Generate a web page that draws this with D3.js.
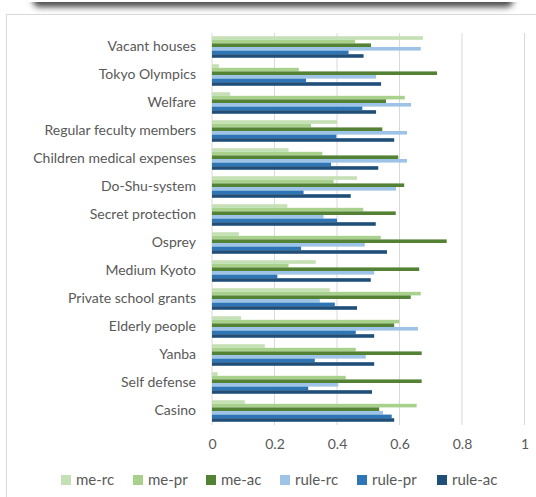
<!DOCTYPE html>
<html>
<head>
<meta charset="utf-8">
<script src="https://cdn.jsdelivr.net/npm/d3@7"></script>
<style>
  body { margin: 0; background: #fff; }
  svg { display: block; font-family: Lato, "Open Sans", sans-serif; }
</style>
</head>
<body>
<div id="content"></div>
<script>
const categories = ["Vacant houses", "Tokyo Olympics", "Welfare", "Regular feculty members",
    "Children medical expenses", "Do-Shu-system", "Secret protection", "Osprey",
    "Medium Kyoto", "Private school grants", "Elderly people", "Yanba",
    "Self defense", "Casino"];
const seriesNames = ["me-rc", "me-pr", "me-ac", "rule-rc", "rule-pr", "rule-ac"];
const colors = ["#c5e0b4", "#a9d18e", "#548235", "#9dc3e6", "#2e75b6", "#1f4e79"];

// one array per series, same order as categories
const meRc   = [0.675, 0.022, 0.058, 0.400, 0.245, 0.464, 0.241, 0.086, 0.332, 0.377, 0.093, 0.169, 0.018, 0.105];
const mePr   = [0.458, 0.278, 0.617, 0.317, 0.353, 0.389, 0.484, 0.540, 0.245, 0.668, 0.599, 0.460, 0.428, 0.655];
const meAc   = [0.509, 0.720, 0.557, 0.545, 0.596, 0.615, 0.588, 0.751, 0.663, 0.636, 0.583, 0.671, 0.671, 0.535];
const ruleRc = [0.668, 0.525, 0.637, 0.624, 0.624, 0.589, 0.357, 0.489, 0.519, 0.345, 0.659, 0.492, 0.404, 0.547];
const rulePr = [0.437, 0.301, 0.481, 0.398, 0.381, 0.293, 0.400, 0.285, 0.209, 0.393, 0.460, 0.329, 0.308, 0.575];
const ruleAc = [0.485, 0.541, 0.525, 0.583, 0.532, 0.444, 0.524, 0.560, 0.508, 0.464, 0.519, 0.519, 0.512, 0.583];
const xTicks = [0, 0.2, 0.4, 0.6, 0.8, 1];

const seriesValues = [meRc, mePr, meAc, ruleRc, rulePr, ruleAc];

const width = 536;
const height = 497;
const plotLeft = 212, plotRight = 524.5, plotTop = 33, plotBottom = 425;

const canvas = d3.select("#content")
    .append("svg")
    .attr("width", width)
    .attr("height", height);

// shadow of the box above
const defs = canvas.append("defs");
defs.append("filter").attr("id", "blur")
    .attr("x", "-10%").attr("y", "-100%").attr("width", "120%").attr("height", "300%")
  .append("feGaussianBlur").attr("stdDeviation", 3);
canvas.append("rect")
    .attr("x", 33).attr("y", -20).attr("width", 480).attr("height", 27)
    .attr("rx", 6)
    .attr("fill", "#4a4a4a")
    .attr("filter", "url(#blur)");
canvas.append("rect")
    .attr("x", 28).attr("y", -20).attr("width", 490).attr("height", 22)
    .attr("fill", "#fff");

// chart frame
canvas.append("rect")
    .attr("x", 6.5).attr("y", 14.5).attr("width", 540).attr("height", 500)
    .attr("fill", "#fff")
    .attr("stroke", "#d9d9d9");

const xScale = d3.scaleLinear().domain([0, 1]).range([plotLeft, plotRight]);
const yScale = d3.scaleBand().domain(categories).range([plotTop, plotBottom])
    .paddingInner(0.23).paddingOuter(0.115);
const ySub = d3.scaleBand().domain(seriesNames).range([0, yScale.bandwidth()]);

// gridlines
canvas.append("g")
    .selectAll("line")
    .data(xTicks)
    .enter()
    .append("line")
    .attr("x1", d => xScale(d)).attr("x2", d => xScale(d))
    .attr("y1", plotTop).attr("y2", plotBottom)
    .attr("stroke", "#d9d9d9")
    .attr("stroke-width", 1);

// bars
seriesNames.forEach((s, si) => {
    canvas.append("g")
        .selectAll("rect")
        .data(seriesValues[si])
        .enter()
        .append("rect")
        .attr("x", xScale(0))
        .attr("y", (d, i) => yScale(categories[i]) + ySub(s))
        .attr("width", d => xScale(d) - xScale(0))
        .attr("height", ySub.bandwidth())
        .attr("fill", colors[si]);
});

// category labels
const yAxis = d3.axisLeft(yScale).tickSize(0).tickPadding(16);
canvas.append("g")
    .attr("transform", `translate(${plotLeft}, 0)`)
    .call(yAxis)
    .call(g => g.select(".domain").remove())
    .selectAll("text")
    .attr("font-family", "Lato, sans-serif")
    .attr("font-size", 14)
    .attr("fill", "#595959");

// x axis labels
const xAxis = d3.axisBottom(xScale).tickValues(xTicks).tickSize(0).tickPadding(14)
    .tickFormat(d3.format("~g"));
canvas.append("g")
    .attr("transform", `translate(0, ${plotBottom})`)
    .call(xAxis)
    .call(g => g.select(".domain").remove())
    .selectAll("text")
    .attr("font-family", "Lato, sans-serif")
    .attr("font-size", 14)
    .attr("fill", "#595959");

// legend
const legendX = [61, 133, 206, 280, 357, 437];
const legend = canvas.append("g")
    .selectAll("g")
    .data(seriesNames)
    .enter()
    .append("g")
    .attr("transform", (d, i) => `translate(${legendX[i]}, 475)`);
legend.append("rect")
    .attr("width", 10).attr("height", 10)
    .attr("fill", (d, i) => colors[i]);
legend.append("text")
    .attr("x", 15).attr("y", 10)
    .attr("font-size", 15)
    .attr("fill", "#595959")
    .text(d => d);
</script>
</body>
</html>
